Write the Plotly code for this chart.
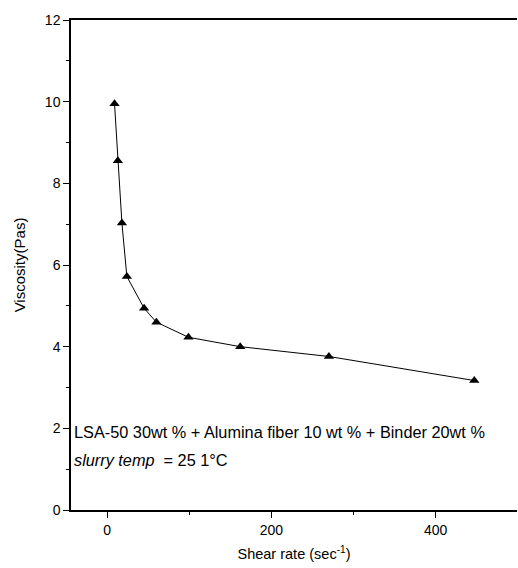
import plotly.graph_objects as go

shear_rate = [9, 13, 18, 24, 45, 60, 99, 162, 270, 447]
viscosity = [9.95, 8.55, 7.03, 5.72, 4.94, 4.6, 4.23, 4.0, 3.76, 3.17]

x_ticks = [0, 200, 400]
y_ticks = [0, 2, 4, 6, 8, 10, 12]

note_line1 = "LSA-50 30wt % + Alumina fiber 10 wt % + Binder 20wt %"
note_line2 = "<i>slurry temp</i>  = 25 1°C"

font_family = "Liberation Sans, Arial, sans-serif"

fig = go.Figure()
fig.add_trace(go.Scatter(
    x=shear_rate, y=viscosity, mode="lines+markers",
    line=dict(color="black", width=1),
    marker=dict(symbol="triangle-up", size=9, color="black"),
    showlegend=False,
))

fig.add_annotation(x=-43, y=1.9, xref="x", yref="y", text=note_line1, showarrow=False,
                   xanchor="left", yanchor="middle", font=dict(size=16.3, color="black", family=font_family))
fig.add_annotation(x=-43, y=1.22, xref="x", yref="y", text=note_line2, showarrow=False,
                   xanchor="left", yanchor="middle", font=dict(size=16.3, color="black", family=font_family))

fig.update_layout(
    width=518, height=568,
    margin=dict(l=71, r=1, t=20, b=58),
    paper_bgcolor="white", plot_bgcolor="white",
    font=dict(family=font_family, color="black", size=12),
    xaxis=dict(
        range=[-44, 499], tickvals=x_ticks, ticks="outside", ticklen=6, tickwidth=1,
        tickcolor="black", showline=True, linecolor="black", linewidth=1.5, mirror=True,
        showgrid=False, zeroline=False,
        minor=dict(tickvals=[100, 300], ticks="outside", ticklen=3, tickcolor="black"),
        title=dict(text="Shear rate (sec<sup>-1</sup>)", font=dict(size=14.5), standoff=12),
        tickfont=dict(size=14),
    ),
    yaxis=dict(
        range=[0, 12], tickvals=y_ticks, ticks="outside", ticklen=6, tickwidth=1,
        tickcolor="black", showline=True, linecolor="black", linewidth=1.5,
        showgrid=False, zeroline=False,
        minor=dict(tickvals=[1, 3, 5, 7, 9, 11], ticks="outside", ticklen=3, tickcolor="black"),
        title=dict(text="Viscosity(Pas)", font=dict(size=15), standoff=16),
        tickfont=dict(size=14),
    ),
)

fig.write_html("out.html")
